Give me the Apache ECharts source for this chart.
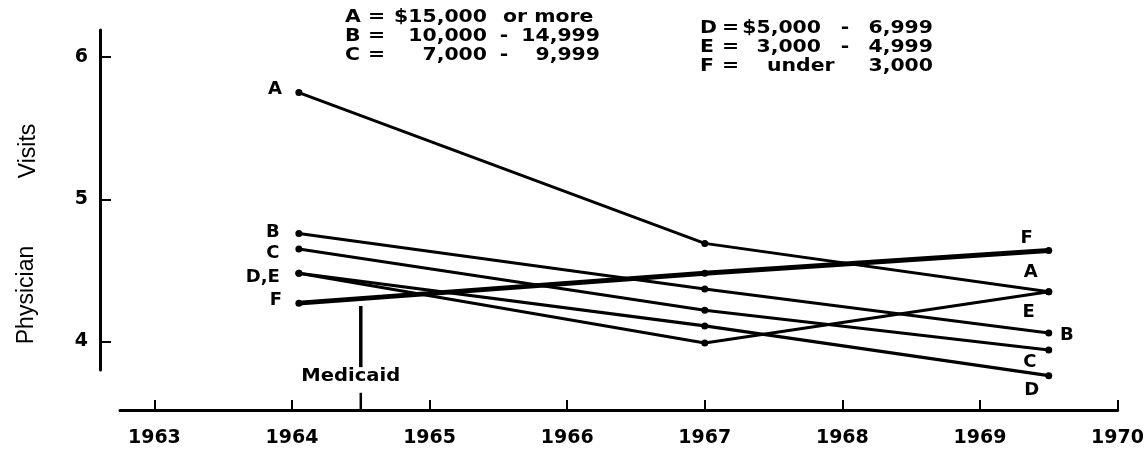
<!DOCTYPE html>
<html>
<head>
<meta charset="utf-8">
<script src="https://cdn.jsdelivr.net/npm/echarts@6/dist/echarts.min.js"></script>
<style>
html,body{margin:0;padding:0;background:#fff;}
#chart{width:1147px;height:456px;}
</style>
</head>
<body>
<div id="chart"></div>
<script>
// ---- data ----
const years = [1964.05, 1967, 1969.5];
const incomeA = [5.75, 4.69, 4.35];
const incomeB = [4.76, 4.37, 4.06];
const incomeC = [4.65, 4.22, 3.94];
const incomeD = [4.48, 4.11, 3.76];
const incomeE = [4.48, 3.99, 4.35];
const incomeF = [4.27, 4.48, 4.64];
const xTicks = [1963, 1964, 1965, 1966, 1967, 1968, 1969, 1970];
const yTicks = [4, 5, 6];
const medicaidYear = 1964.5;
const medicaidLine = [4.25, 3.82];
const medicaidTick = [3.64, 3.52];
const medicaidText = 'Medicaid';
// legend rows: key, first amount, second amount
const legendLeftKeys = ['A', 'B', 'C'];
const legendLeftFrom = ['$15,000', '10,000', '7,000'];
const legendLeftTo = ['or more', '14,999', '9,999'];
const legendRightKeys = ['D', 'E', 'F'];
const legendRightFrom = ['$5,000', '3,000', 'under'];
const legendRightTo = ['6,999', '4,999', '3,000'];
const yTitleLow = 'Physician';
const yTitleHigh = 'Visits';

// ---- styling ----
const FONT = 'DejaVu Sans';
const letterStyle = {show: true, position: 'inside', color: '#000', fontFamily: FONT, fontWeight: 'bold', fontSize: 18};

function mkSeries(name, values, width, leftLbl, rightLbl) {
  const data = values.map((v, i) => ({value: [years[i], v]}));
  if (leftLbl) data[0].label = Object.assign({}, letterStyle, {formatter: leftLbl[0], offset: leftLbl[1]});
  if (rightLbl) data[data.length - 1].label = Object.assign({}, letterStyle, {formatter: rightLbl[0], offset: rightLbl[1]});
  return {
    name: name, type: 'line', data: data, clip: false,
    symbol: 'circle', symbolSize: 7,
    itemStyle: {color: '#000'},
    lineStyle: {color: '#000', width: width},
    label: {show: false},
    emphasis: {disabled: true},
    z: 3
  };
}

const series = [
  mkSeries('A', incomeA, 3, ['A', [-24, -3]], ['A', [-18, -19]]),
  mkSeries('B', incomeB, 3, ['B', [-26, -1]], ['B', [18, 2]]),
  mkSeries('C', incomeC, 3, ['C', [-26, 4]], ['C', [-19, 12]]),
  mkSeries('D', incomeD, 3.2, ['D,E', [-36, 4]], ['D', [-17, 15]]),
  mkSeries('E', incomeE, 3, null, ['E', [-20, 21]]),
  mkSeries('F', incomeF, 4.8, ['F', [-23, -3]], ['F', [-22, -12]]),
  {
    type: 'line', data: medicaidLine.map(v => [medicaidYear, v]), symbol: 'none',
    lineStyle: {color: '#000', width: 3.5}, clip: false, emphasis: {disabled: true}
  },
  {
    type: 'line', data: medicaidTick.map(v => [medicaidYear, v]), symbol: 'none',
    lineStyle: {color: '#000', width: 2.5}, clip: false, emphasis: {disabled: true}
  }
];

const TXT = {fontFamily: FONT, fontWeight: 'bold', fontSize: 17, fill: '#000', verticalAlign: 'middle'};
function txt(x, y, text, align, sx) {
  return {type: 'text', x: x, y: y, scaleX: sx || 1.2, silent: true,
    style: Object.assign({}, TXT, {text: text, x: 0, y: 0, align: align})};
}
const graphics = [];
const rowsL = [18, 37, 56];
const rowsR = [29, 48, 67];
legendLeftKeys.forEach((k, i) => {
  graphics.push(txt(345, rowsL[i], k, 'left'));
  graphics.push(txt(368, rowsL[i], '=', 'left'));
  graphics.push(txt(487, rowsL[i], legendLeftFrom[i], 'right'));
  if (i === 0) {
    graphics.push(txt(503, rowsL[i], legendLeftTo[i], 'left'));
  } else {
    graphics.push(txt(504, rowsL[i], '-', 'center'));
    graphics.push(txt(600, rowsL[i], legendLeftTo[i], 'right'));
  }
});
legendRightKeys.forEach((k, i) => {
  graphics.push(txt(700, rowsR[i], k, 'left'));
  graphics.push(txt(722, rowsR[i], '=', 'left'));
  if (i === 2) {
    graphics.push(txt(767, rowsR[i], legendRightFrom[i], 'left'));
  } else {
    graphics.push(txt(821, rowsR[i], legendRightFrom[i], 'right'));
    graphics.push(txt(845, rowsR[i], '-', 'center'));
  }
  graphics.push(txt(933, rowsR[i], legendRightTo[i], 'right'));
});
graphics.push({type: 'text', x: 27, y: 295, rotation: Math.PI / 2, silent: true,
  style: {text: yTitleLow, fontFamily: 'Liberation Sans', fontSize: 23, fill: '#000', align: 'center', verticalAlign: 'middle'}});
graphics.push({type: 'text', x: 29, y: 151, rotation: Math.PI / 2, silent: true,
  style: {text: yTitleHigh, fontFamily: 'Liberation Sans', fontSize: 23, fill: '#000', align: 'center', verticalAlign: 'middle'}});

const option = {
  animation: false,
  backgroundColor: '#fff',
  grid: {left: 120, right: 29, top: 30, bottom: 86},
  xAxis: {
    type: 'value', min: 1962.75, max: 1970, offset: 40,
    axisLine: {show: true, lineStyle: {color: '#000', width: 3}},
    axisTick: {show: true, inside: true, length: 10, lineStyle: {color: '#000', width: 2}, customValues: xTicks},
    axisLabel: {customValues: xTicks, color: '#000', fontFamily: FONT, fontWeight: 'bold', fontSize: 19, margin: 19,
      formatter: v => String(v)},
    splitLine: {show: false}
  },
  yAxis: {
    type: 'value', min: 3.8, max: 6.19, offset: 20,
    axisLine: {show: true, lineStyle: {color: '#000', width: 3}},
    axisTick: {show: true, inside: true, length: 11, lineStyle: {color: '#000', width: 2}, customValues: yTicks},
    axisLabel: {customValues: yTicks, color: '#000', fontFamily: FONT, fontWeight: 'bold', fontSize: 19, margin: 12,
      formatter: v => String(v)},
    splitLine: {show: false}
  },
  graphic: graphics,
  series: series
};

const chart = echarts.init(document.getElementById('chart'), null, {renderer: 'canvas'});
chart.setOption(option);
// place the "Medicaid" caption just under its marker line, through the chart's scales
const p = chart.convertToPixel({gridIndex: 0}, [medicaidYear, medicaidLine[1]]);
graphics.push(txt(p[0] - 10, p[1] + 9, medicaidText, 'center', 1.15));
chart.setOption({graphic: graphics});
</script>
</body>
</html>
